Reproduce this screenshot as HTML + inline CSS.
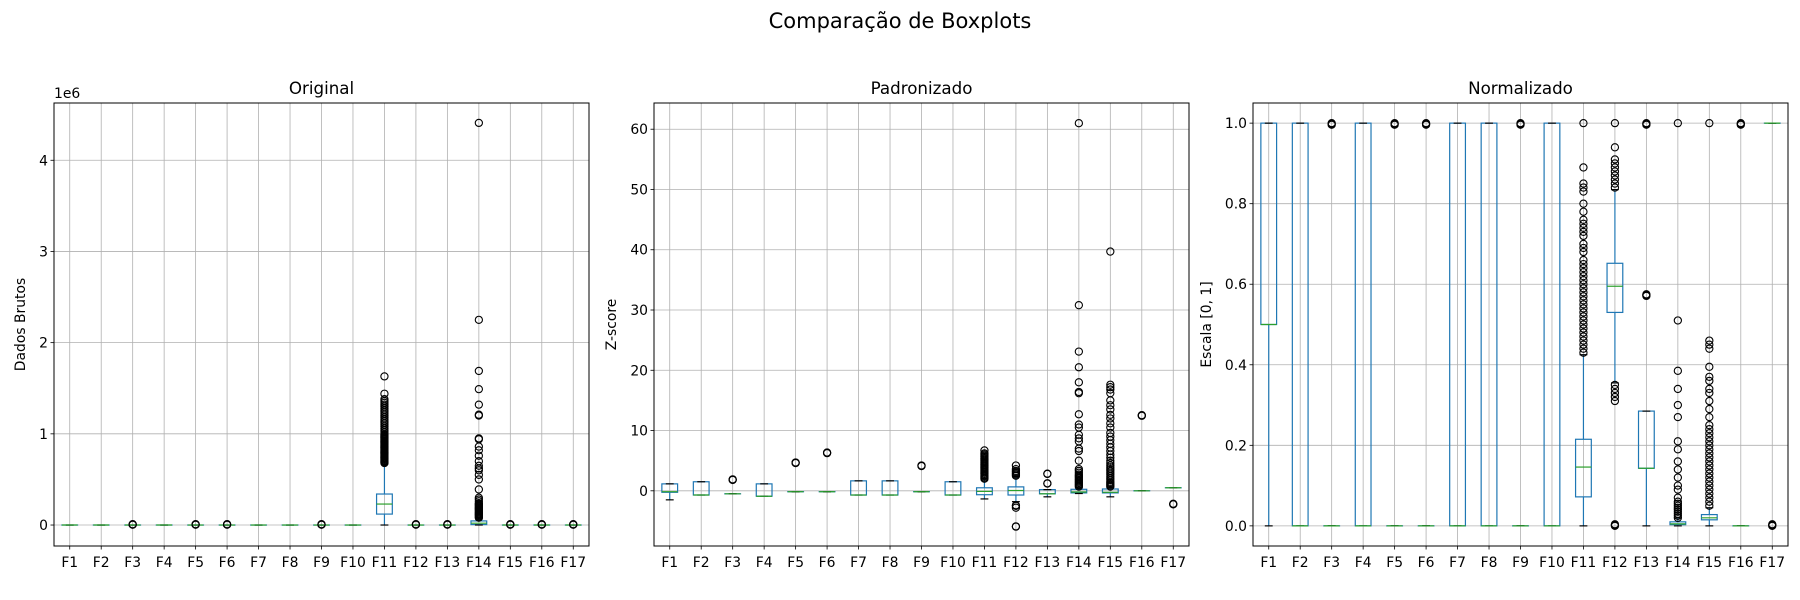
<!DOCTYPE html>
<html><head><meta charset="utf-8"><style>
body{margin:0;background:#fff}
svg{display:block;font-family:"DejaVu Sans","Liberation Sans",sans-serif}
</style></head><body>
<svg id="chart" width="1800" height="600" viewBox="0 0 1800 600" xmlns="http://www.w3.org/2000/svg">
<rect width="1800" height="600" fill="#fff"/>
<text x="900" y="28" text-anchor="middle" font-size="21" fill="#000">Comparação de Boxplots</text>
</svg>
<script>
const categories=["F1","F2","F3","F4","F5","F6","F7","F8","F9","F10","F11","F12","F13","F14","F15","F16","F17"];

// Panel 1: Original (values in 1e6)
const origQ1=[0,0,0,0,0,0,0,0,0,0,0.12,0,0,0.005,0,0,0];
const origMed=[0,0,0,0,0,0,0,0,0,0,0.23,0,0,0.02,0,0,0];
const origQ3=[0,0,0,0,0,0,0,0,0,0,0.34,0,0,0.045,0,0,0];
const origWlo=[0,0,0,0,0,0,0,0,0,0,0,0,0,0,0,0,0];
const origWhi=[0,0,0,0,0,0,0,0,0,0,0.67,0,0,0.075,0,0,0];
const origOut=[[],[],[0.003,0.006,0.009],[],[0.003,0.006,0.009],[0.003,0.006,0.009],[],[],[0.003,0.006,0.009],[],
[0.68,0.69,0.70,0.71,0.72,0.73,0.74,0.75,0.76,0.77,0.78,0.79,0.80,0.81,0.82,0.83,0.84,0.85,0.86,0.87,0.88,0.89,0.90,0.91,0.92,0.93,0.94,0.95,0.96,0.97,0.98,0.99,1.00,1.02,1.04,1.06,1.08,1.10,1.12,1.14,1.16,1.18,1.20,1.22,1.24,1.26,1.28,1.30,1.32,1.34,1.36,1.38,1.44,1.63],
[0.003,0.006,0.009],[0.003,0.006,0.009],
[0.08,0.09,0.10,0.11,0.12,0.13,0.14,0.15,0.16,0.17,0.18,0.19,0.2,0.21,0.22,0.23,0.24,0.26,0.28,0.3,0.39,0.5,0.55,0.6,0.62,0.65,0.7,0.76,0.82,0.86,0.94,0.95,1.2,1.21,1.32,1.49,1.69,2.25,4.41],
[0.003,0.006,0.009],[0.003,0.006,0.009],[0.003,0.006,0.009]];
const origTicks=[0,1,2,3,4];
const origTickLabels=["0","1","2","3","4"];

// Panel 2: Padronizado (z-score)
const zQ1=[-0.25,-0.7,-0.5,-0.9,-0.15,-0.15,-0.7,-0.7,-0.15,-0.7,-0.65,-0.7,-0.5,-0.35,-0.35,0,0.5];
const zMed=[-0.15,-0.7,-0.5,-0.9,-0.15,-0.15,-0.7,-0.7,-0.15,-0.7,-0.1,0.05,-0.5,-0.2,-0.25,0,0.5];
const zQ3=[1.15,1.5,-0.5,1.15,-0.15,-0.15,1.65,1.65,-0.15,1.5,0.5,0.65,0.2,0.25,0.3,0,0.5];
const zWlo=[-1.5,-0.7,-0.5,-0.9,-0.15,-0.15,-0.7,-0.7,-0.15,-0.7,-1.35,-1.8,-1.0,-0.45,-1.0,0,0.5];
const zWhi=[1.15,1.5,-0.5,1.15,-0.15,-0.15,1.65,1.65,-0.15,1.5,2.0,2.4,0.2,0.5,0.6,0,0.5];
const zOut=[[],[],[1.8,1.85,1.9],[],[4.6,4.65,4.7],[6.25,6.3,6.35],[],[],[4.1,4.15,4.2],[],
[2.0,2.2,2.4,2.6,2.8,3.0,3.2,3.4,3.6,3.8,4.0,4.2,4.4,4.6,4.8,5.0,5.2,5.4,5.6,5.8,6.0,6.2,6.7],
[-5.95,-5.9,-2.8,-2.5,-2.4,2.5,2.7,2.9,3.1,3.3,3.6,4.2],
[1.2,1.25,2.8,2.85],
[0.7,0.9,1.1,1.3,1.5,1.7,1.9,2.1,2.3,2.5,2.7,3.0,3.3,3.6,5.0,6.6,7.0,8.2,8.7,9.3,10.5,11.0,12.7,16.2,16.4,18.0,20.5,23.1,30.8,61.0],
[0.7,0.9,1.1,1.3,1.5,1.8,2.1,2.4,2.7,3.0,3.3,3.6,3.9,4.2,4.6,5.0,5.5,6.0,6.6,7.2,7.8,8.4,9.0,9.6,10.5,11.2,12.0,12.6,13.5,14.2,15.0,16.2,16.8,17.2,17.6,39.7],
[12.45,12.5,12.55],[-2.15,-2.2,-2.25]];
const zTicks=[0,10,20,30,40,50,60];
const zTickLabels=["0","10","20","30","40","50","60"];

// Panel 3: Normalizado
const nQ1=[0.5,0,0,0,0,0,0,0,0,0,0.072,0.53,0.143,0.003,0.015,0,1];
const nMed=[0.5,0,0,0,0,0,0,0,0,0,0.146,0.595,0.143,0.005,0.02,0,1];
const nQ3=[1,1,0,1,0,0,1,1,0,1,0.215,0.652,0.285,0.01,0.028,0,1];
const nWlo=[0,0,0,0,0,0,0,0,0,0,0,0.355,0,0,0,0,1];
const nWhi=[1,1,0,1,0,0,1,1,0,1,0.425,0.835,0.285,0.02,0.045,0,1];
const nOut=[[],[],[1,0.998,0.996],[],[1,0.998,0.996],[1,0.998,0.996],[],[],[1,0.998,0.996],[],
[0.43,0.44,0.45,0.46,0.47,0.48,0.49,0.50,0.51,0.52,0.53,0.54,0.55,0.56,0.57,0.58,0.59,0.60,0.61,0.62,0.63,0.64,0.65,0.66,0.68,0.69,0.70,0.72,0.73,0.74,0.75,0.76,0.78,0.80,0.83,0.84,0.85,0.89,1.0],
[0.0,0.002,0.004,0.31,0.32,0.33,0.34,0.35,0.84,0.85,0.86,0.87,0.88,0.89,0.9,0.91,0.94,1.0],
[0.571,0.573,0.575,1.0,0.998,0.996],
[0.02,0.025,0.03,0.035,0.04,0.045,0.05,0.055,0.06,0.07,0.09,0.1,0.12,0.14,0.16,0.19,0.21,0.27,0.30,0.34,0.385,0.51,1.0],
[0.05,0.06,0.07,0.08,0.09,0.1,0.11,0.12,0.13,0.14,0.15,0.16,0.17,0.18,0.19,0.2,0.21,0.22,0.23,0.24,0.25,0.27,0.29,0.31,0.33,0.34,0.36,0.37,0.395,0.44,0.45,0.46,1.0],
[1,0.998,0.996],[0,0.002,0.004]];
const nTicks=[0,0.2,0.4,0.6,0.8,1.0];
const nTickLabels=["0.0","0.2","0.4","0.6","0.8","1.0"];

const NS="http://www.w3.org/2000/svg";
const svg=document.getElementById("chart");
function mk(tag,attrs,parent){const e=document.createElementNS(NS,tag);for(const k in attrs)e.setAttribute(k,attrs[k]);(parent||svg).appendChild(e);return e;}

function drawPanel(p){
  const L=p.left,R=p.left+535,T=103,B=546;
  const g=mk("g",{});
  
  
  const y=v=>B-(v-p.ymin)/(p.ymax-p.ymin)*(B-T);
  const step=(R-L)/categories.length;
  const x=i=>L+step*(i+0.5);
  categories.forEach((c,i)=>{
    const l=mk("line",{x1:x(i),x2:x(i),y1:T,y2:B,stroke:"#b0b0b0","stroke-width":0.8},g);
    
    
  });
  p.ticks.forEach((t,k)=>{
    const l=mk("line",{x1:L,x2:R,y1:y(t),y2:y(t),stroke:"#b0b0b0","stroke-width":0.8},g);
    
    
    const tk=mk("line",{x1:L-3.5,x2:L,y1:y(t),y2:y(t),stroke:"#000","stroke-width":0.8},g);
    
    
    const tx=mk("text",{x:L-6,y:y(t)+5,"text-anchor":"end","font-size":13.9,fill:"#000"},g);
    tx.textContent=p.tickLabels[k];
    
    
  });
  const bw=step*0.5,cw=step*0.25;
  categories.forEach((c,i)=>{
    const cx=x(i);
    const bg=mk("g",{},g);
    
    
    const blue="#1f77b4";
    mk("line",{x1:cx,x2:cx,y1:y(p.q1[i]),y2:y(p.wlo[i]),stroke:blue,"stroke-width":1.2},bg);
    mk("line",{x1:cx,x2:cx,y1:y(p.q3[i]),y2:y(p.whi[i]),stroke:blue,"stroke-width":1.2},bg);
    mk("rect",{x:cx-bw/2,y:y(p.q3[i]),width:bw,height:Math.max(0.01,y(p.q1[i])-y(p.q3[i])),fill:"none",stroke:blue,"stroke-width":1.2},bg);
    mk("line",{x1:cx-cw/2,x2:cx+cw/2,y1:y(p.wlo[i]),y2:y(p.wlo[i]),stroke:"#000","stroke-width":1.2},bg);
    mk("line",{x1:cx-cw/2,x2:cx+cw/2,y1:y(p.whi[i]),y2:y(p.whi[i]),stroke:"#000","stroke-width":1.2},bg);
    mk("line",{x1:cx-bw/2,x2:cx+bw/2,y1:y(p.med[i]),y2:y(p.med[i]),stroke:"#2ca02c","stroke-width":1.2},bg);
    p.out[i].forEach(v=>{
      const o=mk("circle",{cx:cx,cy:y(v),r:3.6,fill:"none",stroke:"#000","stroke-width":1.1},bg);
      
      
    });
    const tk=mk("line",{x1:cx,x2:cx,y1:B,y2:B+3.5,stroke:"#000","stroke-width":0.8},g);
    
    
    const tx=mk("text",{x:cx,y:B+21,"text-anchor":"middle","font-size":13.9,fill:"#000"},g);
    tx.textContent=c;
    
    
  });
  const fr=mk("rect",{x:L,y:T,width:R-L,height:B-T,fill:"none",stroke:"#000","stroke-width":1},g);
  
  
  const tt=mk("text",{x:(L+R)/2,y:94,"text-anchor":"middle","font-size":16.7,fill:"#000"},g);
  tt.textContent=p.title;
  
  
  const yl=mk("text",{x:0,y:0,"text-anchor":"middle","font-size":13.9,fill:"#000",transform:`translate(${p.ylx},${(T+B)/2}) rotate(-90)`},g);
  yl.textContent=p.ylabel;
  
  
  if(p.offset){
    const ot=mk("text",{x:L,y:98,"font-size":13.9,fill:"#000"},g);
    ot.textContent=p.offset;
    
    
  }
}
drawPanel({key:"original",left:54,ymin:-0.23,ymax:4.628,q1:origQ1,med:origMed,q3:origQ3,wlo:origWlo,whi:origWhi,out:origOut,ticks:origTicks,tickLabels:origTickLabels,title:"Original",ylabel:"Dados Brutos",ylx:25,offset:"1e6"});
drawPanel({key:"padronizado",left:654,ymin:-9.16,ymax:64.35,q1:zQ1,med:zMed,q3:zQ3,wlo:zWlo,whi:zWhi,out:zOut,ticks:zTicks,tickLabels:zTickLabels,title:"Padronizado",ylabel:"Z-score",ylx:616});
drawPanel({key:"normalizado",left:1253,ymin:-0.05,ymax:1.05,q1:nQ1,med:nMed,q3:nQ3,wlo:nWlo,whi:nWhi,out:nOut,ticks:nTicks,tickLabels:nTickLabels,title:"Normalizado",ylabel:"Escala [0, 1]",ylx:1211});
</script>
</body></html>
